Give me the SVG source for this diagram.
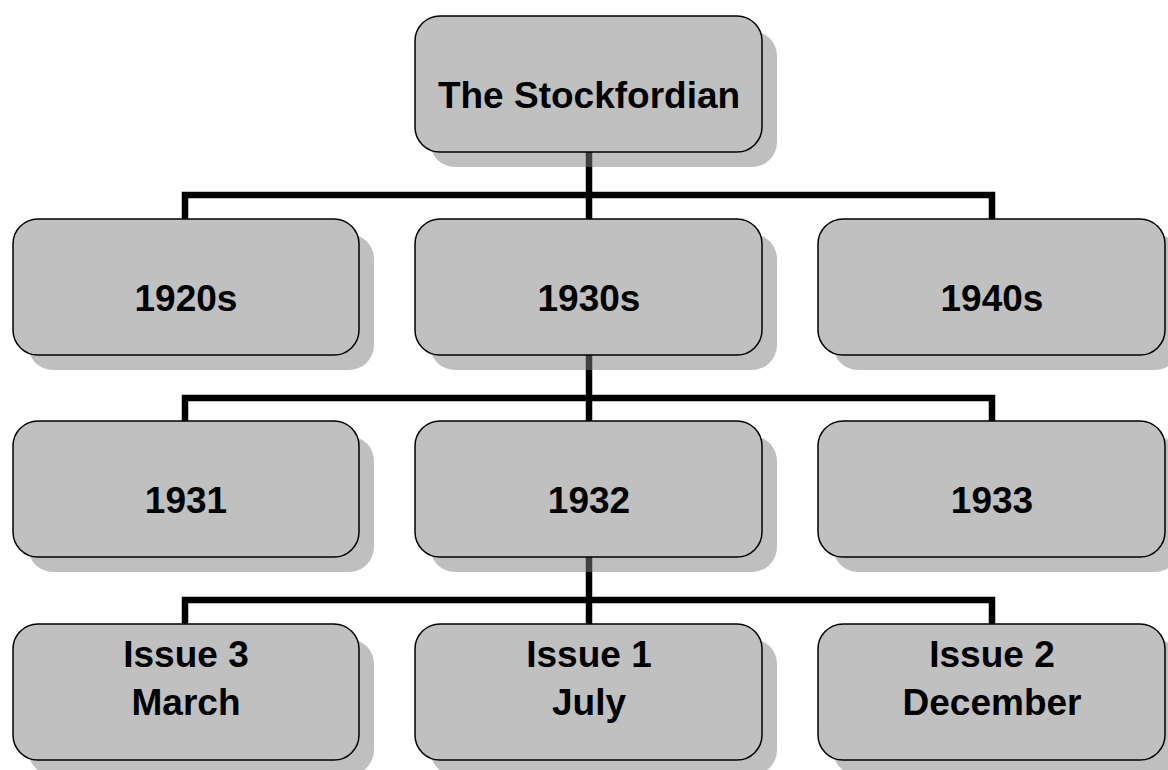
<svg xmlns="http://www.w3.org/2000/svg" width="1168" height="770" viewBox="0 0 1168 770">
<style>
.sh{fill:#808080;fill-opacity:0.5}
.bx{fill:#c0c0c0;stroke:#000;stroke-width:1.5}
.t{font-family:"Liberation Sans",Arial,sans-serif;font-weight:bold;font-size:37px;fill:#000;text-anchor:middle}
.c{fill:none;stroke:#000;stroke-width:6.5}
</style>
<rect width="1168" height="770" fill="#fff"/>
<g id="connectors">
<path class="c" d="M589,152V195M185,222V195H992V222M589,195V222"/>
<path class="c" d="M589,355V398M185,424V398H992V424M589,398V424"/>
<path class="c" d="M589,557V600M185,627V600H992V627M589,600V627"/>
</g>
<g id="n0"><rect class="sh" x="430" y="31" width="347" height="136" rx="25"/><rect class="bx" x="415" y="16" width="347" height="136" rx="25"/><text class="t" x="589" y="108">The Stockfordian</text></g>
<g id="n1920"><rect class="sh" x="28" y="234" width="346" height="136" rx="25"/><rect class="bx" x="13" y="219" width="346" height="136" rx="25"/><text class="t" x="186" y="311">1920s</text></g>
<g id="n1930"><rect class="sh" x="430" y="234" width="347" height="136" rx="25"/><rect class="bx" x="415" y="219" width="347" height="136" rx="25"/><text class="t" x="589" y="311">1930s</text></g>
<g id="n1940"><rect class="sh" x="833" y="234" width="347" height="136" rx="25"/><rect class="bx" x="818" y="219" width="347" height="136" rx="25"/><text class="t" x="992" y="311">1940s</text></g>
<g id="n1931"><rect class="sh" x="28" y="436" width="346" height="136" rx="25"/><rect class="bx" x="13" y="421" width="346" height="136" rx="25"/><text class="t" x="186" y="513">1931</text></g>
<g id="n1932"><rect class="sh" x="430" y="436" width="347" height="136" rx="25"/><rect class="bx" x="415" y="421" width="347" height="136" rx="25"/><text class="t" x="589" y="513">1932</text></g>
<g id="n1933"><rect class="sh" x="833" y="436" width="347" height="136" rx="25"/><rect class="bx" x="818" y="421" width="347" height="136" rx="25"/><text class="t" x="992" y="513">1933</text></g>
<g id="issue3"><rect class="sh" x="28" y="639" width="346" height="136" rx="25"/><rect class="bx" x="13" y="624" width="346" height="136" rx="25"/><text class="t" x="186" y="667">Issue 3</text><text class="t" x="186" y="715">March</text></g>
<g id="issue1"><rect class="sh" x="430" y="639" width="347" height="136" rx="25"/><rect class="bx" x="415" y="624" width="347" height="136" rx="25"/><text class="t" x="589" y="667">Issue 1</text><text class="t" x="589" y="715">July</text></g>
<g id="issue2"><rect class="sh" x="833" y="639" width="347" height="136" rx="25"/><rect class="bx" x="818" y="624" width="347" height="136" rx="25"/><text class="t" x="992" y="667">Issue 2</text><text class="t" x="992" y="715">December</text></g>
</svg>
